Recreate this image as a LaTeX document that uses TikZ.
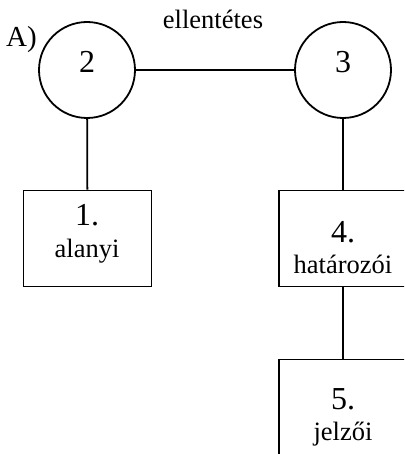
\documentclass[tikz,border=0pt]{standalone}
\usepackage{fontspec}
\setmainfont{Liberation Serif}
\usetikzlibrary{positioning}

\tikzset{
  tondo/.style={draw, circle, line width=1.8pt, minimum size=96pt, inner sep=0pt},
  riquadro/.style={draw, rectangle, line width=1.8pt, minimum width=128pt, minimum height=96pt, inner sep=0pt},
  num/.style={anchor=base, inner sep=0pt, font=\fontsize{32}{36}\selectfont},
  txt/.style={anchor=base, inner sep=0pt, font=\fontsize{26.5}{30}\selectfont},
}

\begin{document}
\begin{tikzpicture}[x=1pt, y=-1pt]
  \useasboundingbox (0,0) rectangle (404,454);
  \clip (0,0) rectangle (404,454);

  \node [tondo] (c2) at (87,70) {};
  \node [tondo] (c3) at (343,70) {};
  \node [riquadro] (b1) at (87.5,238.5) {};
  \node [riquadro] (b4) at (343,238.5) {};
  \node [riquadro] (b5) at (343,407.5) {};

  %% collegamenti
  \draw [line width=1.8pt] (c2) -- (c3);
  \draw [line width=1.8pt] (c2) -- (b1);
  \draw [line width=1.8pt] (c3) -- (b4);
  \draw [line width=1.8pt] (b4) -- (b5);

  %% scritte
  \node [txt, anchor=base west, font=\fontsize{29}{32}\selectfont] (lA) at (6,47) {A)};
  \node [txt] (lrel) at (213,29) {ellentétes};
  \node [num] (t2) at (87,73) {2};
  \node [num] (t3) at (343,73) {3};
  \node [num] (t1) at (87,225) {1.};
  \node [txt] (s1) at (87,257) {alanyi};
  \node [num] (t4) at (343,242) {4.};
  \node [txt] (s4) at (343,273) {határozói};
  \node [num] (t5) at (343,409) {5.};
  \node [txt] (s5) at (343,440) {jelzői};
\end{tikzpicture}
\end{document}
